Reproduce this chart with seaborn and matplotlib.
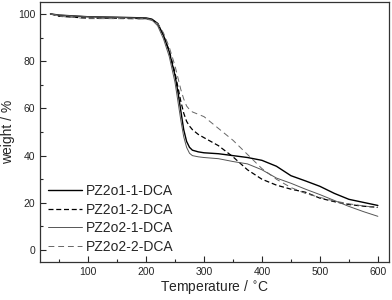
import matplotlib
matplotlib.use("Agg")
import matplotlib.pyplot as plt
import seaborn as sns
from matplotlib.ticker import MultipleLocator

# temperature grid (°C) shared by all four TGA curves
temperature = [35, 50, 100, 150, 200, 210, 220, 230, 240, 250, 255, 260, 265, 270, 275,
               280, 290, 300, 325, 350, 375, 400, 425, 450, 475, 500, 525, 550, 575, 600]

# weight (%)
pz2o1_1 = [100, 99.5, 98.8, 98.6, 98.3, 97.8, 96, 91, 84, 74, 67, 59, 51, 46, 43.5,
           42.3, 41.6, 41.2, 40.8, 40.0, 39.2, 38, 35.5, 31.5, 29.3, 27, 24, 21.5, 20.2, 18.9]
pz2o1_2 = [100, 99, 98.2, 98.2, 98, 97.5, 96, 91, 84.5, 75, 69, 63, 58, 54.5, 52.5,
           51, 49, 47.6, 44.2, 39.5, 34, 30, 27.5, 25.8, 24.5, 22, 20.5, 19.3, 18.6, 18.1]
pz2o2_1 = [100, 99.5, 98.8, 98.5, 98.2, 97.5, 95, 89.5, 82, 71, 63, 55, 48, 43.5, 41,
           40, 39.5, 39.2, 38.7, 37.5, 36.5, 34, 30.5, 28.3, 25.8, 23.5, 21, 18.5, 16.3, 14.3]
pz2o2_2 = [100, 99, 98, 98, 97.8, 97.3, 96, 92, 86, 78, 73, 68, 64, 61, 59.5,
           58.5, 57.5, 56.5, 51.5, 46.5, 40.5, 34.5, 30, 26.5, 24, 22.3, 20.8, 19.6, 18.7, 18]

labels = ["PZ2o1-1-DCA", "PZ2o1-2-DCA", "PZ2o2-1-DCA", "PZ2o2-2-DCA"]

sns.set_style("ticks")
plt.rcParams['font.family'] = ['Liberation Sans', 'DejaVu Sans']

fig = plt.figure(figsize=(3.92, 3.0), dpi=100)
ax = fig.add_axes([0.102, 0.127, 0.89, 0.866])

sns.lineplot(x=temperature, y=pz2o1_1, ax=ax, color="black", lw=1.0, label=labels[0])
sns.lineplot(x=temperature, y=pz2o1_2, ax=ax, color="black", lw=0.9,
             dashes=False, linestyle=(0, (4, 2.2)), label=labels[1])
sns.lineplot(x=temperature, y=pz2o2_1, ax=ax, color="#555555", lw=0.7, label=labels[2])
sns.lineplot(x=temperature, y=pz2o2_2, ax=ax, color="#666666", lw=0.7,
             dashes=False, linestyle=(0, (6, 4)), label=labels[3])

ax.set_xlim(17, 619)
ax.set_ylim(-5, 105)
ax.xaxis.set_major_locator(MultipleLocator(100))
ax.xaxis.set_minor_locator(MultipleLocator(50))
ax.yaxis.set_major_locator(MultipleLocator(20))
ax.yaxis.set_minor_locator(MultipleLocator(10))
ax.tick_params(which="both", direction="in", top=False, right=False, labelsize=7.5, width=0.8)
ax.tick_params(which="major", length=4)
ax.tick_params(which="minor", length=2)
for s in ax.spines.values():
    s.set_linewidth(0.9)
    s.set_color("#333333")

ax.set_xlabel("Temperature / $^{\\circ}$C", fontsize=10, labelpad=1)
ax.set_ylabel("weight / %", fontsize=10, labelpad=2)

ax.legend(loc="lower left", frameon=False, fontsize=10, handlelength=2.4,
          handletextpad=0.3, labelspacing=0.32, borderaxespad=0.2,
          bbox_to_anchor=(0.0, 0.0))

fig.savefig("out.png", dpi=100)
